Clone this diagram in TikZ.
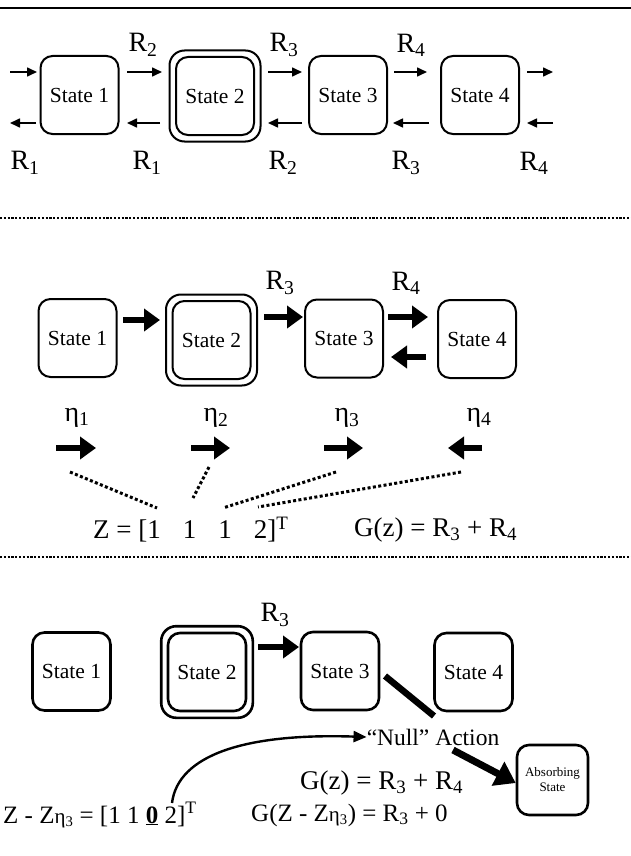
\documentclass[tikz,border=0pt]{standalone}
\usepackage{fontspec}
\setmainfont{Liberation Serif}
\usetikzlibrary{arrows.meta,fit}
\begin{document}
\begin{tikzpicture}[x=1pt,y=-1pt,
  statebox/.style={draw,line width=2pt,rounded corners=12pt,minimum width=78pt,minimum height=78pt,inner sep=0pt,font=\fontsize{21.5}{21.5}\selectfont},
  boldbox/.style={statebox,line width=2.6pt},
  outerbox/.style={draw,line width=2pt,rounded corners=15pt,inner sep=5.5pt},
  thinarr/.style={line width=1.6pt,-{Triangle[length=10pt,width=9pt]}},
  thickarr/.style={line width=6.5pt,-{Triangle[length=16pt,width=22pt]}},
  rlab/.style={inner sep=0pt,font=\fontsize{28}{28}\selectfont},
  eqn/.style={inner sep=0pt,anchor=west,font=\fontsize{27}{27}\selectfont},
  sepline/.style={line width=2.2pt,dash pattern=on 2.2pt off 1.6pt},
  dotline/.style={line width=3pt,dash pattern=on 3pt off 2.4pt},
  curvarr/.style={line width=2.4pt,-{Triangle[length=13pt,width=11pt]}},
]
\useasboundingbox (0,0) rectangle (631,856);

% ---------- panel 1 ----------
\draw[line width=2pt] (0,8) -- (631,8);
\node[statebox] (a1) at (79.5,95) {State 1};
\node[statebox] (a2) at (215,96) {State 2};
\node[outerbox,fit=(a2)] (a2o) {};
\node[statebox] (a3) at (348,95) {State 3};
\node[statebox] (a4) at (480,95) {State 4};

\draw[thinarr] (10,72) -- (37,72);
\draw[thinarr] (127,72) -- (162,72);
\draw[thinarr] (268,72) -- (302,72);
\draw[thinarr] (394,72) -- (427,72);
\draw[thinarr] (527,72) -- (553,72);
\draw[thinarr] (36,123) -- (10,123);
\draw[thinarr] (160,123) -- (127,123);
\draw[thinarr] (302,123) -- (268,123);
\draw[thinarr] (429,123) -- (393,123);
\draw[thinarr] (553,123) -- (527,123);

\node[rlab] (t2) at (143,45) {R\textsubscript{2}};
\node[rlab] (t3) at (284,45) {R\textsubscript{3}};
\node[rlab] (t4) at (411,45) {R\textsubscript{4}};
\node[rlab] (b1) at (25,163) {R\textsubscript{1}};
\node[rlab] (b1b) at (147,163) {R\textsubscript{1}};
\node[rlab] (b2) at (283,163) {R\textsubscript{2}};
\node[rlab] (b3) at (406,163) {R\textsubscript{3}};
\node[rlab] (b4) at (534,163) {R\textsubscript{4}};

\draw[sepline] (0,218) -- (631,218);

% ---------- panel 2 ----------
\node[statebox] (c1) at (77.5,338) {State 1};
\node[statebox] (c2) at (211.5,340) {State 2};
\node[outerbox,fit=(c2)] (c2o) {};
\node[statebox] (c3) at (344,338.5) {State 3};
\node[statebox] (c4) at (477,339) {State 4};

\draw[thickarr] (123,320) -- (160,320);
\draw[thickarr] (264,317) -- (303,317);
\draw[thickarr] (388,317) -- (428,317);
\draw[thickarr] (426,357) -- (391,357);

\node[rlab] (r3) at (280,283) {R\textsubscript{3}};
\node[rlab] (r4) at (406,283) {R\textsubscript{4}};

\node[rlab] (e1) at (77,418) {η\textsubscript{1}};
\node[rlab] (e2) at (216,418) {η\textsubscript{2}};
\node[rlab] (e3) at (347,418) {η\textsubscript{3}};
\node[rlab] (e4) at (479,418) {η\textsubscript{4}};

\draw[thickarr] (56,448) -- (96,448);
\draw[thickarr] (191,448) -- (230,448);
\draw[thickarr] (324,448) -- (363,448);
\draw[thickarr] (482,448) -- (448,448);

\coordinate (d1s) at (70,472);  \coordinate (d1e) at (157,508);
\coordinate (d2s) at (209,467); \coordinate (d2e) at (193,498);
\coordinate (d3s) at (336,472); \coordinate (d3e) at (223,508);
\coordinate (d4s) at (461,472); \coordinate (d4e) at (258,507);
\draw[dotline] (d1s) -- (d1e);
\draw[dotline] (d2s) -- (d2e);
\draw[dotline] (d3s) -- (d3e);
\draw[dotline] (d4s) -- (d4e);

\node[eqn] (zeq) at (93,530) {Z = [1\hspace{22pt}1\hspace{22pt}1\hspace{22pt}2]\textsuperscript{T}};
\node[eqn] (geq) at (354,530) {G(z) = R\textsubscript{3} + R\textsubscript{4}};

\draw[sepline] (0,557) -- (631,557);

% ---------- panel 3 ----------
\node[boldbox] (f1) at (71.5,671.5) {State 1};
\node[boldbox] (f2) at (207,672) {State 2};
\node[outerbox,line width=2.6pt,fit=(f2)] (f2o) {};
\node[boldbox] (f3) at (340,671) {State 3};
\node[boldbox] (f4) at (473.5,672) {State 4};

\node[rlab] (q3) at (275,615) {R\textsubscript{3}};
\draw[thickarr] (258,647) -- (299,647);
\draw[line width=6.5pt] (385,676) -- (434,716);

\node[inner sep=0pt,font=\fontsize{23.5}{23.5}\selectfont] (null) at (433,737) {“Null” Action};
\node[eqn] (g2) at (300,783) {G(z) = R\textsubscript{3} + R\textsubscript{4}};
\node[draw,line width=2.6pt,rounded corners=12pt,minimum width=71pt,minimum height=70pt,inner sep=0pt,align=center,font=\fontsize{13}{15}\selectfont] (abs) at (552.5,780) {Absorbing\\State};
\draw[line width=7pt,-{Triangle[length=20pt,width=26pt]}] (453,750) -- (abs.west|-0,783) ;

\node[eqn,font=\fontsize{25}{25}\selectfont] (zb) at (3,815) {Z - Z{\fontsize{21}{21}\selectfont η\textsubscript{3}} = [1 1 \underline{\textbf{0}} 2]\textsuperscript{T}};
\node[eqn,font=\fontsize{25}{25}\selectfont] (gb) at (251,815) {G(Z - Z{\fontsize{21}{21}\selectfont η\textsubscript{3}}) = R\textsubscript{3} + 0};
\coordinate (zero) at (172,803);
\draw[curvarr] (zero) .. controls (178,755) and (245,733) .. (null.west);
\end{tikzpicture}
\end{document}
